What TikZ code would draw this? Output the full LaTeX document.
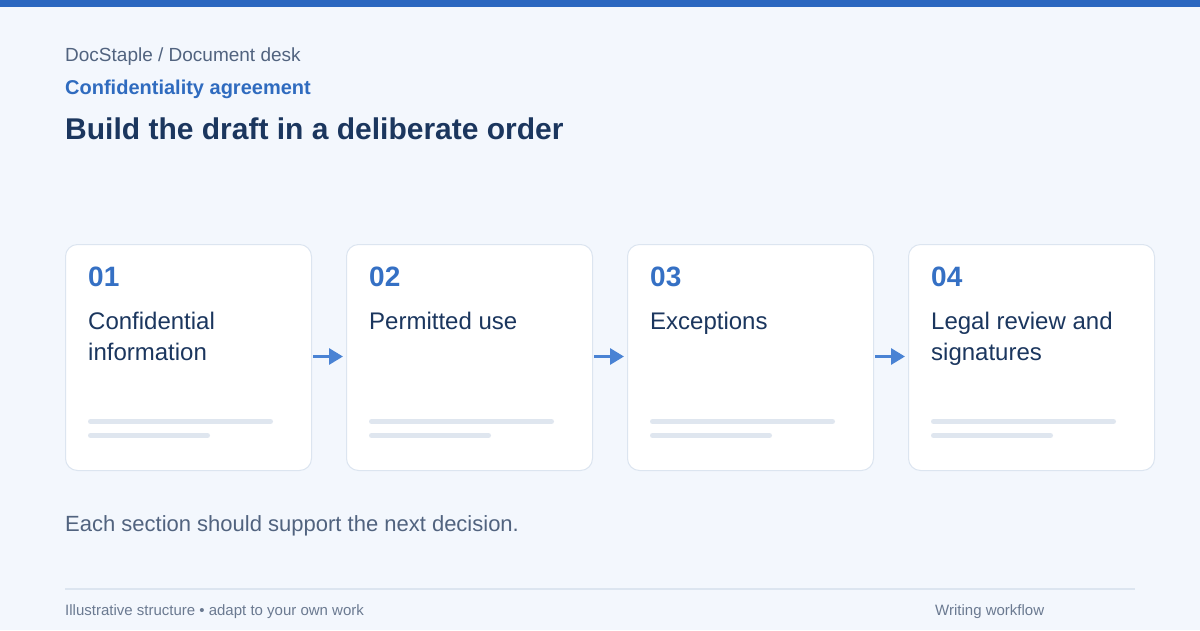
\documentclass[tikz,border=0pt]{standalone}
\usepackage{fontspec}
\setmainfont{Liberation Sans}
\usetikzlibrary{positioning, arrows.meta}

\definecolor{topbar}{HTML}{2B67C0}
\definecolor{paper}{HTML}{F3F7FD}
\definecolor{muted}{HTML}{51637F}
\definecolor{accent}{HTML}{2F6BBF}
\definecolor{numblue}{HTML}{3570C4}
\definecolor{navy}{HTML}{1B365E}
\definecolor{cardline}{HTML}{DCE5F0}
\definecolor{barcol}{HTML}{DFE6EF}
\definecolor{flowblue}{HTML}{4A83D4}
\definecolor{footgray}{HTML}{6B7A91}

\begin{document}
\begin{tikzpicture}[
						x=1pt, y=-1pt,
						card/.style = {draw=cardline, fill=white, rounded corners=12pt, line width=1pt, minimum width=246pt, minimum height=226pt, inner sep=0pt, anchor=north west},
						num/.style = {anchor=base west, inner sep=0pt, text=numblue, font=\fontsize{28}{32}\selectfont\bfseries},
						cardtext/.style = {anchor=base west, inner sep=0pt, align=left, text=navy, font=\fontsize{24}{31}\selectfont},
						bar/.style = {draw=barcol, line width=5pt, line cap=round},
						flow/.style = {-{Triangle[length=14pt,width=16pt]}, draw=flowblue, line width=3pt, shorten <=1pt, shorten >=3pt},
						plain/.style = {anchor=base west, inner sep=0pt},
					]

\useasboundingbox (0,0) rectangle (1200,630);
\fill[paper] (0,0) rectangle (1200,630);
\fill[topbar] (0,0) rectangle (1200,7);

% header
\node[plain, text=muted, font=\fontsize{19}{23}\selectfont] (crumb) at (65,61) {DocStaple / Document desk};
\node[plain, text=accent, font=\fontsize{20}{24}\selectfont\bfseries] (kind) at (65,94) {Confidentiality agreement};
\node[plain, text=navy, font=\fontsize{30}{36}\selectfont\bfseries] (title) at (65,139) {Build the draft in a deliberate order};

% cards
\node[card] (c1) at (65,244) {};
\node[card] (c2) at (346,244) {};
\node[card] (c3) at (627,244) {};
\node[card] (c4) at (908,244) {};

\node[num] (n1) at (88,286) {01};
\node[num] (n2) at (369,286) {02};
\node[num] (n3) at (650,286) {03};
\node[num] (n4) at (931,286) {04};

% two-line labels sit on their last baseline
\node[cardtext] (t1) at (88,360) {Confidential\\information};
\node[cardtext] (t2) at (369,329) {Permitted use};
\node[cardtext] (t3) at (650,329) {Exceptions};
\node[cardtext] (t4) at (931,360) {Legal review and\\signatures};

% placeholder lines
\foreach \x in {88,369,650,931} {
	\draw[bar] (\x+2.5,421.5) -- ++(180,0);
	\draw[bar] (\x+2.5,435.5) -- ++(117,0);
}

\draw[flow] ([yshift=1pt]c1.east) -- ([yshift=1pt]c2.west);
\draw[flow] ([yshift=1pt]c2.east) -- ([yshift=1pt]c3.west);
\draw[flow] ([yshift=1pt]c3.east) -- ([yshift=1pt]c4.west);

% footer
\node[plain, text=muted, font=\fontsize{22}{26}\selectfont] (note) at (65,531) {Each section should support the next decision.};
\draw[cardline, line width=1.5pt] (65,589) -- (1135,589);
\node[plain, text=footgray, font=\fontsize{15}{18}\selectfont] (foot) at (65,615) {Illustrative structure • adapt to your own work};
\node[plain, text=footgray, font=\fontsize{15}{18}\selectfont] (wf) at (935,615) {Writing workflow};

\end{tikzpicture}
\end{document}
